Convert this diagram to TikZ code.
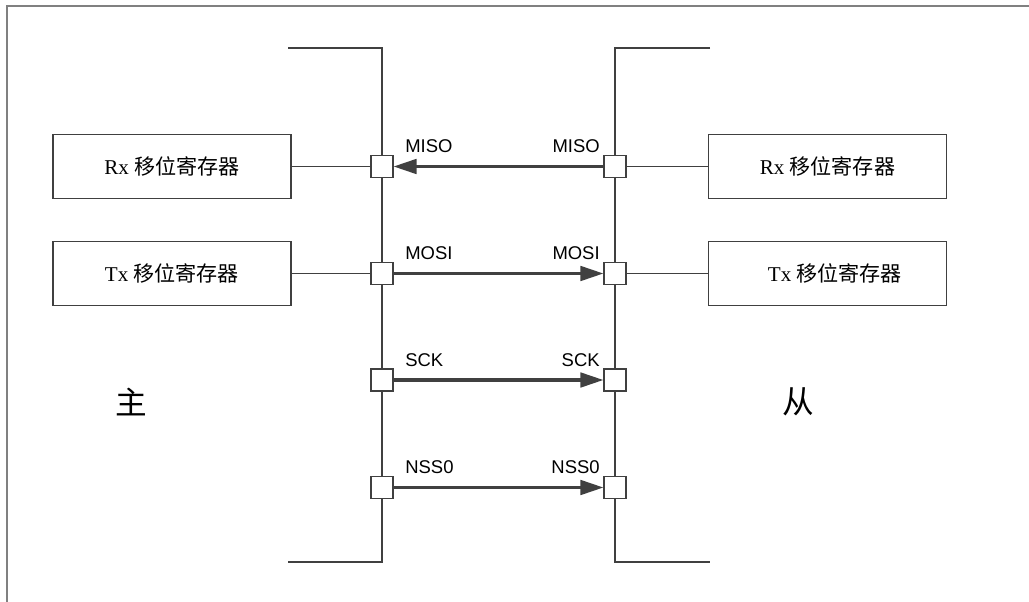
\documentclass[tikz,border=0pt]{standalone}
\usepackage{fontspec}
\setmainfont{Liberation Serif}
\setsansfont{Liberation Sans}
\newfontfamily\cjk{Noto Sans CJK SC}
\usetikzlibrary{arrows.meta}
\definecolor{ink}{HTML}{404040}
\tikzset{
  reg/.style={draw=ink, line width=0.6pt, fill=white, minimum width=4.76cm, minimum height=1.28cm, inner sep=0pt, font=\fontsize{12}{14}\selectfont},
  port/.style={draw=ink, line width=0.6pt, fill=white, minimum size=0.44cm, inner sep=0pt},
  wire/.style={draw=ink, line width=0.6pt},
  sig/.style={draw=ink, line width=1.8pt, -{Triangle[length=4.6mm, width=2.9mm]}},
  pin/.style={font=\sffamily\fontsize{10.5}{12}\selectfont, inner sep=0pt},
  side/.style={font=\cjk\fontsize{18}{20}\selectfont, inner sep=0pt}}
\begin{document}
\begin{tikzpicture}[x=0.02cm, y=-0.02cm]
  \useasboundingbox (0,0) rectangle (1029,602);
  \draw[gray, line width=1.2pt] (7,602) -- (7,6) -- (1029,6);
  % bus brackets
  \draw[wire] (288,48) -- (382,48) -- (382,562) -- (288,562);
  \draw[wire] (710,48) -- (615,48) -- (615,562) -- (710,562);
  % shift registers
  \node[reg] (mrx) at (172,166.5) {Rx {\cjk 移位寄存器}};
  \node[reg] (mtx) at (172,273.5) {Tx {\cjk 移位寄存器}};
  \node[reg] (srx) at (827.5,166.5) {Rx {\cjk 移位寄存器}};
  \node[reg] (stx) at (827.5,273.5) {\hspace{3mm}Tx {\cjk 移位寄存器}};
  \node[side] (master) at (131,402) {主};
  \node[side] (slave) at (798,402) {从};
  % ports and pin names
  \foreach \s/\t/\y in {miso/MISO/166.5, mosi/MOSI/273.5, sck/SCK/380, nss/NSS0/487.5} {
    \node[port] (m\s) at (382,\y) {};
    \node[port] (s\s) at (615,\y) {};
    \node[pin, anchor=base west] (ml\s) at (405,\y-14) {\t};
    \node[pin, anchor=base east] (sl\s) at (600,\y-14) {\t};}
  \draw[wire] (mrx) -- (mmiso);
  \draw[wire] (mtx) -- (mmosi);
  \draw[wire] (smiso) -- (srx);
  \draw[wire] (smosi) -- (stx);
  \draw[sig] (smiso) -- (mmiso);
  \foreach \s in {mosi,sck,nss} {\draw[sig] (m\s) -- (s\s);}
\end{tikzpicture}
\end{document}
